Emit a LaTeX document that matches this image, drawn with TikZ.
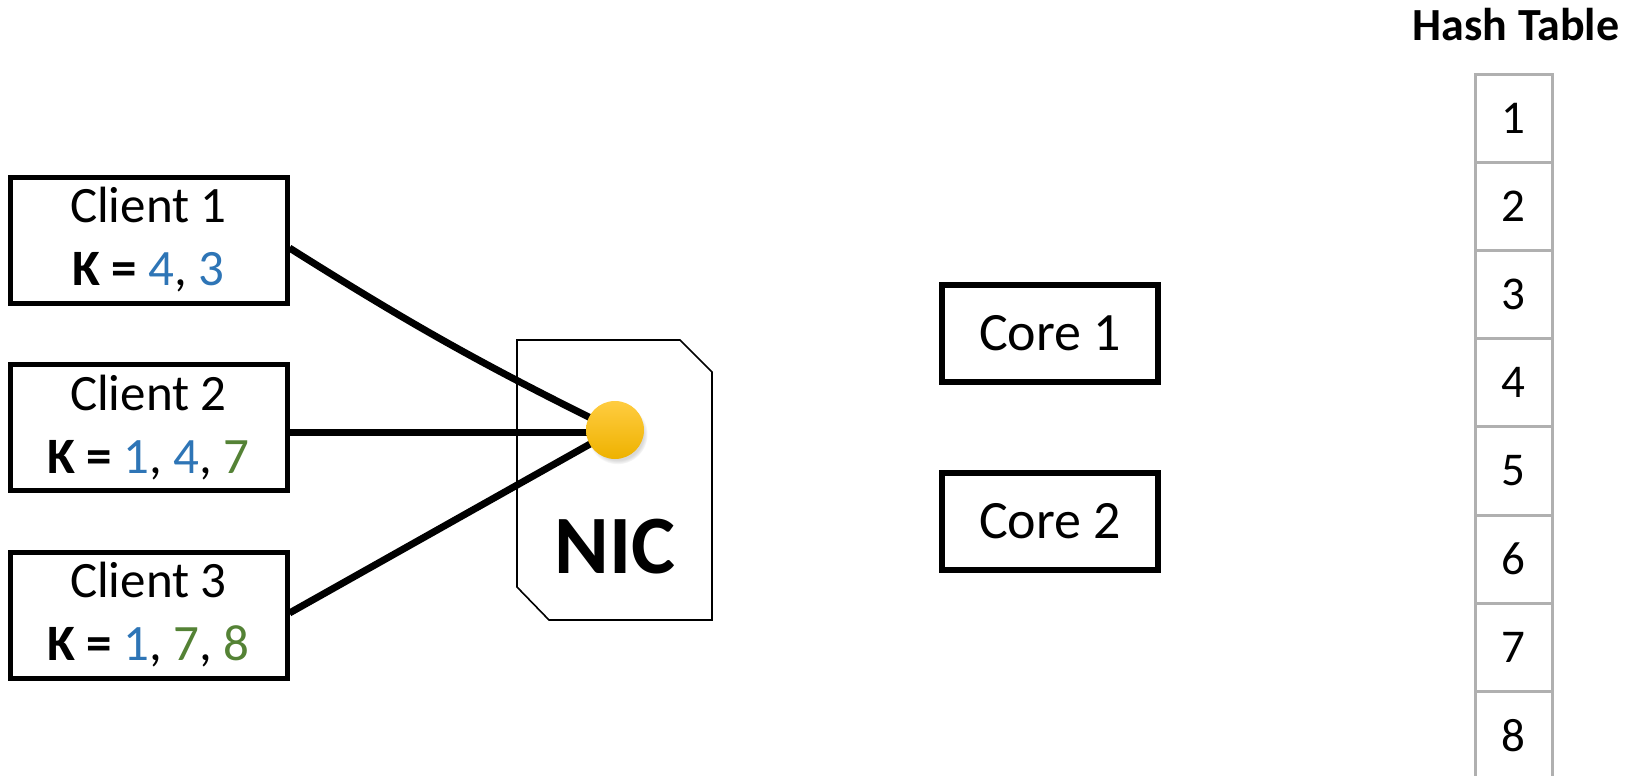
\documentclass[tikz,border=0pt]{standalone}
\usepackage{fontspec}
\setmainfont{Carlito}
\usetikzlibrary{shadows}
\definecolor{keyblue}{RGB}{46,117,182}
\definecolor{keygreen}{RGB}{84,130,53}
\definecolor{cellgray}{RGB}{176,176,176}
\definecolor{porttop}{RGB}{255,204,64}
\definecolor{portbot}{RGB}{238,178,0}
\begin{document}
\begin{tikzpicture}[x=0.5pt,y=-0.5pt,
  clientbox/.style={draw,line width=2.5pt,fill=white,minimum width=138.5pt,
    minimum height=63pt,inner sep=0pt,align=center,
    font=\fontsize{25.5}{31.5}\selectfont},
  corebox/.style={draw,line width=2.6pt,fill=white,minimum width=108pt,
    minimum height=48.5pt,inner sep=0pt,font=\fontsize{27}{32}\selectfont},
  cell/.style={draw=cellgray,line width=1.5pt,minimum width=38.5pt,
    minimum height=44.1pt,inner sep=0pt,font=\fontsize{23.5}{28}\selectfont},
  wire/.style={line width=3.5pt}]
\useasboundingbox (0,0) rectangle (1639,776);

% network card outline with two cut corners
\draw[line width=0.8pt,fill=white] (517,340) -- (680,340) -- (712,372) -- (712,620)
  -- (549,620) -- (517,587) -- cycle;
\node[font=\fontsize{41.5}{48}\bfseries] (nic) at (615,547) {NIC};

% clients
\node[clientbox] (c1) at (148.5,240) {Client 1\\\textbf{K =} \textcolor{keyblue}{4}, \textcolor{keyblue}{3}};
\node[clientbox] (c2) at (148.5,427.5) {Client 2\\\textbf{K =} \textcolor{keyblue}{1}, \textcolor{keyblue}{4}, \textcolor{keygreen}{7}};
\node[clientbox] (c3) at (148.5,615) {Client 3\\\textbf{K =} \textcolor{keyblue}{1}, \textcolor{keygreen}{7}, \textcolor{keygreen}{8}};

% port on the NIC
\coordinate (portc) at (615,430);
\coordinate (c2out) at ([yshift=-2.5pt]c2.east);
\draw[wire] ([yshift=-4pt]c1.east) to[bend right=3] (portc);
\draw[wire] (c2out) -- (c2out -| portc);
\draw[wire] ([yshift=1pt]c3.east) -- (portc);
\node[circle,minimum size=29pt,inner sep=0pt,top color=porttop,bottom color=portbot,
  circular drop shadow={shadow xshift=1.2pt,shadow yshift=-2pt,shadow scale=1.04,opacity=0.3}]
  (port) at (portc) {};

% cores
\node[corebox] (core1) at (1050,333.5) {Core 1};
\node[corebox] (core2) at (1050,521.5) {Core 2};

% hash table
\node[font=\fontsize{23}{27}\bfseries] (ht) at (1516,25) {Hash Table};
\foreach \k in {1,...,8}{
  \node[cell] (h\k) at (1513.5,{74+88.2*(\k-0.5)}) {\k};
}
\end{tikzpicture}
\end{document}
